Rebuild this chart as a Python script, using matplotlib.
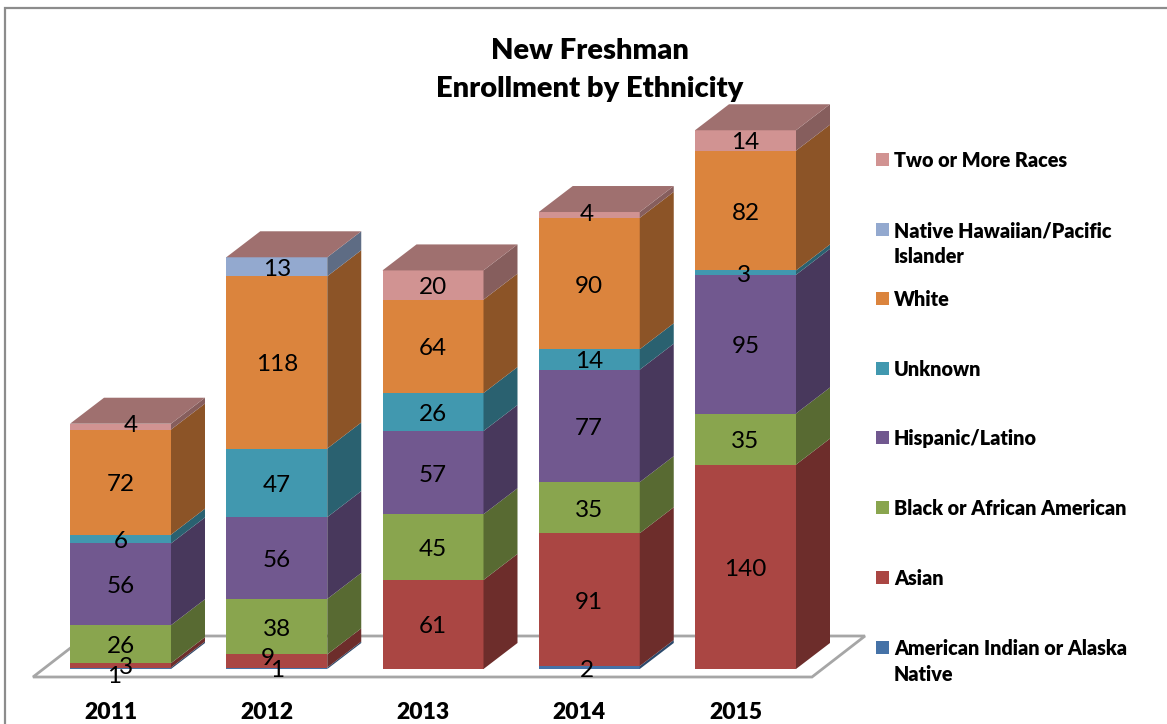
import numpy as np
import matplotlib
matplotlib.use("Agg")
import matplotlib.pyplot as plt
from matplotlib.patches import Polygon, Rectangle
from matplotlib.colors import to_rgb

years = ["2011", "2012", "2013", "2014", "2015"]
american_indian = [1, 1, 0, 2, 0]
asian = [3, 9, 61, 91, 140]
black = [26, 38, 45, 35, 35]
hispanic = [56, 56, 57, 77, 95]
unknown = [6, 47, 26, 14, 3]
white = [72, 118, 64, 90, 82]
native_hawaiian = [0, 13, 0, 0, 0]
two_or_more = [4, 0, 20, 4, 14]

names = ["American Indian or Alaska\nNative", "Asian", "Black or African American",
         "Hispanic/Latino", "Unknown", "White",
         "Native Hawaiian/Pacific\nIslander", "Two or More Races"]
series = [american_indian, asian, black, hispanic, unknown, white, native_hawaiian, two_or_more]
colors = ["#4572A7", "#AA4643", "#89A54E", "#71588F", "#4198AF", "#DB843D", "#93A9CF", "#D19392"]

W, H = 1167, 724
plt.rcParams["font.family"] = ["Lato", "DejaVu Sans"]
BOLD = 800
fig = plt.figure(figsize=(W / 100, H / 100), dpi=100, facecolor="white")

# pixel-space layer for frame and floor
deco = fig.add_axes([0, 0, 1, 1], zorder=0)
deco.set_xlim(0, W)
deco.set_ylim(H, 0)
deco.axis("off")
deco.plot([4.5, 4.5, W], [H, 8, 8], color="#8c8c8c", lw=1.6, solid_joinstyle="miter")
deco.add_patch(Polygon([(33, 677), (812, 677), (865, 636), (86, 636)], closed=True,
                       facecolor="white", edgecolor="#a6a6a6", lw=2))

# chart layer in category/value units
PX_X = 156.25      # pixels per category
PX_Y = 1.46        # pixels per student
BASE = 669
LEFT = 120.5
ax = fig.add_axes([0, (H - BASE) / H, 1, BASE / H], zorder=1)
ax.patch.set_alpha(0)
ax.set_xlim(-LEFT / PX_X, (W - LEFT) / PX_X)
ax.set_ylim(0, BASE / PX_Y)
for s in ax.spines.values():
    s.set_visible(False)
ax.set_yticks([])
ax.set_xticks(np.arange(len(years)) - 10 / PX_X)
ax.set_xticklabels(years, fontsize=16.5, fontweight=BOLD, color="black")
ax.tick_params(axis="x", length=0, pad=24)

width = 101 / PX_X
ddx = 34 / PX_X
ddy = 26 / PX_Y


def shade(c, f):
    return tuple(v * f for v in to_rgb(c))


x_pos = np.arange(len(years))
bottom = np.zeros(len(years))
for vals, col in zip(series, colors):
    vals = np.array(vals, float)
    ax.bar(x_pos, vals, width=width, bottom=bottom, color=col, edgecolor="none", zorder=3)
    for i in range(len(years)):
        if vals[i] > 0:
            xr = x_pos[i] + width / 2
            y0, y1 = bottom[i], bottom[i] + vals[i]
            ax.add_patch(Polygon([(xr, y0), (xr + ddx, y0 + ddy), (xr + ddx, y1 + ddy), (xr, y1)],
                                 closed=True, facecolor=shade(col, 0.64), edgecolor="none", zorder=3))
    bottom = bottom + vals

# top faces take the colour of the last series
for i in range(len(years)):
    xl, xr = x_pos[i] - width / 2, x_pos[i] + width / 2
    y = bottom[i]
    ax.add_patch(Polygon([(xl, y), (xr, y), (xr + ddx, y + ddy), (xl + ddx, y + ddy)],
                         closed=True, facecolor=shade(colors[-1], 0.76), edgecolor="none", zorder=3))

# value labels; (year, series): pixel nudge where small segments force labels apart
label_offsets = {(0, 0): (-6, -6), (0, 1): (5, 0), (1, 1): (-9, 5),
                 (0, 7): (10, 4), (3, 7): (-2, 3), (4, 4): (-2, 0), (3, 0): (-2, 0)}
bottom = np.zeros(len(years))
for k, vals in enumerate(series):
    vals = np.array(vals, float)
    for i in range(len(years)):
        if vals[i] > 0:
            dx, dy = label_offsets.get((i, k), (0, 0))
            ax.annotate(f"{int(vals[i])}", (x_pos[i], bottom[i] + vals[i] / 2),
                        xytext=(dx * 0.72, (dy - 2.5) * 0.72), textcoords="offset points",
                        ha="center", va="center", fontsize=17.5, color="black", zorder=6,
                        annotation_clip=False)
    bottom = bottom + vals

# title and legend
top = fig.add_axes([0, 0, 1, 1], zorder=2)
top.set_xlim(0, W)
top.set_ylim(H, 0)
top.axis("off")
top.text(590, 51, "New Freshman", ha="center", va="center", fontsize=21, fontweight=BOLD)
top.text(590, 89, "Enrollment by Ethnicity", ha="center", va="center", fontsize=21, fontweight=BOLD)

leg_y = [647, 577, 507, 437, 368, 298, 229, 159]
for name, col, y in zip(names, colors, leg_y):
    top.add_patch(Rectangle((876, y - 6.5), 13, 13, facecolor=col, edgecolor="none"))
    for j, line in enumerate(name.split("\n")):
        top.text(894, y + 1.5 + j * 26, line, ha="left", va="center", fontsize=14.2, fontweight=BOLD)

fig.savefig("out.png", dpi=100)
